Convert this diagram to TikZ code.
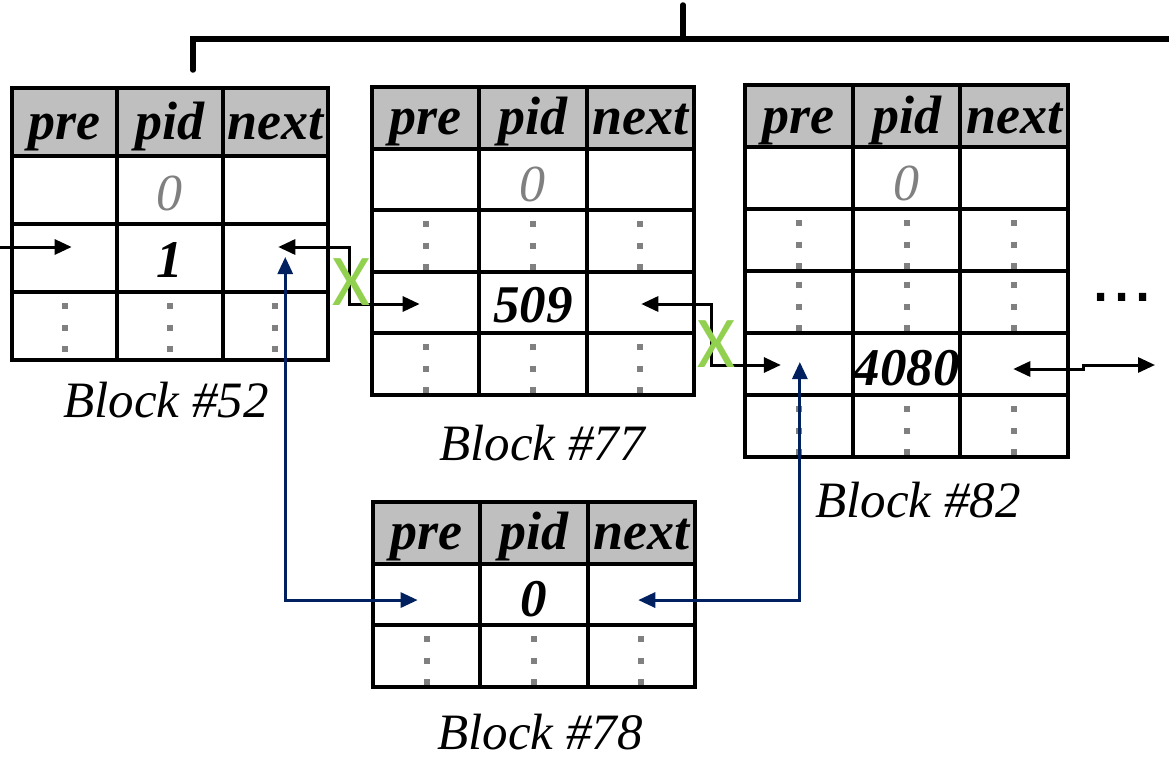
\documentclass[tikz,border=0pt]{standalone}
\usepackage{fontspec}
\usetikzlibrary{arrows.meta}
\setmainfont{Liberation Serif}
\newfontfamily\carlito{Carlito}
\newfontfamily\arialish{Liberation Sans}
\definecolor{navy}{RGB}{0,32,96}
\definecolor{xgreen}{RGB}{146,208,80}
\begin{document}
\begin{tikzpicture}[x=1pt, y=-1pt,
    hcell/.style={draw, line width=4pt, fill=black!25, inner sep=0pt, outer sep=0pt,
      text height=42pt, text depth=8pt, font=\bfseries\itshape\fontsize{54}{60}\selectfont},
    cell/.style={draw, line width=4pt, inner sep=0pt, outer sep=0pt},
    num/.style={inner sep=0pt, font=\bfseries\itshape\fontsize{53}{60}\selectfont},
    zero/.style={inner sep=0pt, text=black!50, font=\itshape\fontsize{52}{60}\selectfont},
    caption/.style={anchor=base, inner sep=0pt, font=\itshape\fontsize{51}{60}\selectfont},
    vdots/.style={draw=black!50, line width=6pt, dash pattern=on 6pt off 15.5pt},
    link/.style={line width=3pt},
    blink/.style={line width=3pt, draw=navy},
    cross/.style={text=xgreen, inner sep=0pt, font=\carlito\fontsize{73}{80}\selectfont},
    more/.style={anchor=base west, inner sep=0pt, font=\arialish\fontsize{76}{90}\selectfont},
    tree/.style={line width=5.5pt, line cap=round},
    >={Triangle[length=17pt,width=15pt]}
]
  \useasboundingbox (0,0) rectangle (1169,760);
  % tree above the blocks
  \coordinate (root) at (683,5);
  \coordinate (top52) at (193,70);
  \coordinate (treeR) at (1175,39);
  \draw[tree] (top52) |- (treeR);
  \draw[tree] (root) -- (root |- treeR);
  % blocks: name / left / top / data rows / column width / row height
  \foreach \blk/\bx/\by/\nr/\cw/\rh in {b52/12/88/3/105.3/68, b77/372/87/4/107.3/61.6,
                                         b82/745/85/5/107.7/62, b78/373/502/2/107.3/61.7}{
    \foreach \fld [count=\col] in {pre,pid,next}{
      \node[hcell, minimum width=\cw pt, minimum height=\rh pt] (\blk-0-\col)
        at ({\bx+\cw*(\col-0.5)},{\by+\rh/2}) {\fld};
      \foreach \row in {1,...,\nr}
        \node[cell, minimum width=\cw pt, minimum height=\rh pt] (\blk-\row-\col)
          at ({\bx+\cw*(\col-0.5)},{\by+\rh*(\row+0.5)}) {};
    }
  }
  % skipped entries
  \foreach \blk/\row in {b52/3, b77/2, b77/4, b82/2, b82/3, b82/5, b78/2}
    \foreach \col in {1,2,3}
      \draw[vdots] ([yshift=-11pt]\blk-\row-\col.north) -- (\blk-\row-\col.south);
  % page ids
  \node[zero] (z52) at ([yshift=-3pt]b52-1-2) {0};
  \node[num] (n1) at ([yshift=-2pt]b52-2-2) {1};
  \node[zero] (z77) at ([yshift=-5pt]b77-1-2) {0};
  \node[num] (n509) at ([yshift=-3pt]b77-3-2) {509};
  \node[zero] (z82) at ([yshift=-5pt]b82-1-2) {0};
  \node[num] (n4080) at ([yshift=-4pt]b82-4-2) {4080};
  \node[num] (n0) at ([yshift=-5pt]b78-1-2) {0};
  % block names
  \node[caption] (c52) at (166,417) {Block \#52};
  \node[caption] (c77) at (542,460) {Block \#77};
  \node[caption] (c82) at (918,517) {Block \#82};
  \node[caption] (c78) at (540,749) {Block \#78};
  % old links
  \coordinate (in52) at (0,247);
  \coordinate (out82) at (1155,365);
  \draw[link, ->] (in52) -- ([shift={(7,-11)}]b52-2-1.center);
  \draw[link, <->] ([shift={(3,-11)}]b52-2-3.center) -- ++(71,0) |- ([shift={(-6,1.4)}]b77-3-1.center);
  \draw[link, <->] ([shift={(1,1.4)}]b77-3-3.center) -- ++(70,0) |- ([shift={(-18,1)}]b82-4-1.center);
  \draw[link, <->] ([shift={(-1,5)}]b82-4-3.center) -- ++(70,0) -- ++(0,-4) -- (out82);
  % new links to block 78
  \draw[blink, <->] ([shift={(10,-1)}]b52-2-3.center) |- ([shift={(-9,5.5)}]b78-1-1.center);
  \draw[blink, <->] ([shift={(1,-2)}]b82-4-1.center) |- ([shift={(-3,5.5)}]b78-1-3.center);
  \node[cross] (x52) at (351,282) {X};
  \node[cross] (x77) at (716,344) {X};
  \node[more] (more) at (1090,301) {...};
\end{tikzpicture}
\end{document}
